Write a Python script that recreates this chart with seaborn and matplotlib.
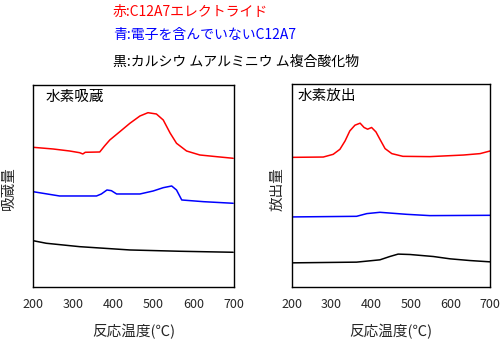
import matplotlib
matplotlib.use("Agg")
import matplotlib.pyplot as plt
import seaborn as sns
import pandas as pd

sns.set_theme(style="white")
plt.rcParams["font.family"] = ["Noto Sans CJK JP", "DejaVu Sans"]

# Hydrogen uptake (arbitrary units, curves offset vertically)
abs_red_t = [200, 250, 291, 316, 324, 330, 366, 378, 391, 416, 441, 466, 486, 507, 524, 541, 557, 582, 615, 657, 698]
abs_red_v = [139.7, 138, 136, 134.3, 133, 134.7, 135, 141, 147, 155.3, 163.7, 171, 174.3, 173, 167, 154, 143.7, 136, 132, 130.3, 128.7]
abs_blue_t = [200, 266, 358, 370, 384, 395, 408, 466, 499, 524, 545, 557, 570, 624, 698]
abs_blue_v = [95.3, 91, 91, 93, 97, 96.3, 93, 93, 96, 99.3, 101, 97, 87, 85.3, 83.7]
abs_black_t = [200, 233, 316, 441, 566, 698]
abs_black_v = [46.3, 43.7, 40.3, 37, 35.7, 34.7]

# Hydrogen release (arbitrary units, curves offset vertically)
rel_red_t = [203, 279, 304, 321, 334, 346, 359, 372, 382, 391, 401, 412, 422, 435, 452, 480, 548, 633, 675, 700]
rel_red_v = [129, 129.3, 132, 137, 145.3, 155.3, 161, 163, 158.7, 157, 158.7, 154.3, 147, 137.7, 132.7, 130, 129.7, 131.3, 132.7, 135.3]
rel_blue_t = [203, 363, 389, 422, 489, 548, 700]
rel_blue_v = [69.7, 70.3, 73, 74.3, 72.3, 71, 71.3]
rel_black_t = [203, 363, 422, 447, 468, 498, 557, 599, 649, 700]
rel_black_v = [24, 24.7, 27, 30.3, 32.7, 32.3, 30.3, 28, 26.3, 25]

temp_ticks = [200, 300, 400, 500, 600, 700]
series_names = ["C12A7エレクトライド", "電子を含んでいないC12A7", "カルシウムアルミニウム複合酸化物"]
series_colors = ["#ff0000", "#0000ff", "#000000"]


def make_frame(curves):
    rows = []
    for name, (t, v) in zip(series_names, curves):
        rows += [{"temp": a, "value": b, "sample": name} for a, b in zip(t, v)]
    return pd.DataFrame(rows)


df_abs = make_frame([(abs_red_t, abs_red_v), (abs_blue_t, abs_blue_v), (abs_black_t, abs_black_v)])
df_rel = make_frame([(rel_red_t, rel_red_v), (rel_blue_t, rel_blue_v), (rel_black_t, rel_black_v)])

fig = plt.figure(figsize=(5, 3.4), dpi=100)
ax1 = fig.add_axes([0.066, 0.156, 0.402, 0.594])
ax2 = fig.add_axes([0.584, 0.156, 0.396, 0.597])

palette = dict(zip(series_names, series_colors))
panels = [
    (ax1, df_abs, "水素吸蔵", "吸蔵量", 0.065, (-0.121, 0.49)),
    (ax2, df_rel, "水素放出", "放出量", 0.03, (-0.075, 0.48)),
]
for ax, df, title, ylabel, title_x, ylab_xy in panels:
    sns.lineplot(data=df, x="temp", y="value", hue="sample", palette=palette,
                 ax=ax, legend=False, linewidth=1.1, sort=True)
    ax.set_xlim(200, 700)
    ax.set_ylim(0, 202)
    ax.set_xticks(temp_ticks)
    ax.set_xticklabels([str(t) for t in temp_ticks], fontsize=9)
    ax.set_yticks([])
    ax.tick_params(axis="x", direction="in", length=3, width=0.8, color="black", pad=8)
    for s in ax.spines.values():
        s.set_color("black")
        s.set_linewidth(1.0)
    ax.set_xlabel("反応温度(℃)", fontsize=10.5, labelpad=9)
    ax.set_ylabel(ylabel, fontsize=10.5, va="center")
    ax.yaxis.set_label_coords(*ylab_xy)
    ax.text(title_x, 0.94, title, transform=ax.transAxes,
            fontsize=10.5, ha="left", va="center", color="black")

legend_lines = [
    ("赤:C12A7エレクトライド", "#ff0000", 0.965),
    ("青:電子を含んでいないC12A7", "#0000ff", 0.897),
    ("黒:カルシウ ムアルミニウ ム複合酸化物", "#000000", 0.818),
]
for txt, col, y in legend_lines:
    fig.text(0.226, y, txt, color=col, fontsize=10, ha="left", va="center")

fig.savefig("out.png", dpi=100, facecolor="white")
